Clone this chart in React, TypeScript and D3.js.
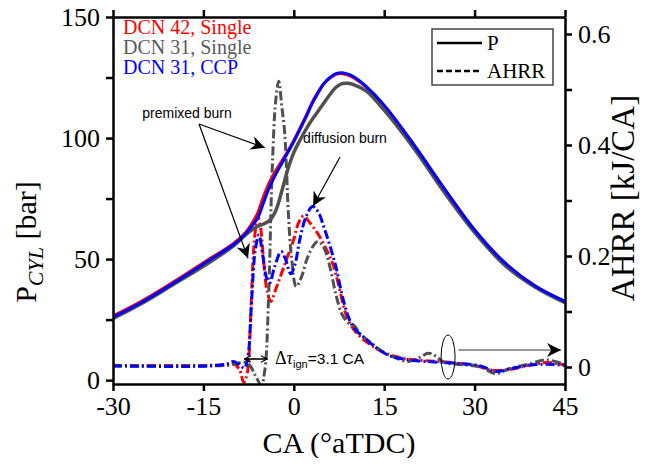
import React, { useRef, useEffect } from "react";
import * as d3 from "d3";

// crank angle grid for the pressure traces (°aTDC)
const caP = [-30, -25, -20, -15, -10, -8, -7, -6, -5, -4, -3, -2, -1, 0, 1, 2, 3, 4, 5, 6, 7, 8, 9, 10, 12, 15, 20, 25, 30, 35, 40, 45];
const pDcn42 = [26.5, 33, 40.5, 48.5, 56.5, 61, 64.5, 69, 76, 82, 86.5, 90.5, 94.5, 99, 104, 109, 114.5, 119, 122.5, 124.8, 126.3, 126.6, 126, 124.8, 121, 113.5, 97, 79, 62, 48.5, 39, 32.5];
const pDcn31 = [25.5, 32, 39.5, 47, 55.5, 60, 62, 63.5, 64.5, 66, 70, 78, 87, 94, 99, 103.5, 107.5, 111, 114.5, 118, 121, 122.5, 122.6, 122, 119.5, 111.5, 95.5, 77.5, 61, 47.5, 38.5, 32];
const pCcp = [26, 32.5, 40, 48, 56, 60.5, 63.5, 67, 73.5, 80, 85, 89.5, 94, 98.5, 103.5, 108.5, 114, 118.5, 122.5, 125, 126.6, 127, 126.4, 125.2, 121.3, 113.5, 97, 79, 62, 48.5, 39, 32.5];

// apparent heat release rate [kJ/CA] as [CA, value]
const ahrrDcn42: [number, number][] = [
  [-30, 0.003], [-14, 0.003], [-11, 0.004], [-10, 0.006], [-9, -0.005], [-8.3, -0.028], [-7.7, -0.01],
  [-7.2, 0.08], [-6.6, 0.22], [-6.0, 0.272], [-5.5, 0.25], [-5.0, 0.19], [-4.4, 0.135], [-3.8, 0.118],
  [-3, 0.14], [-2, 0.17], [-1, 0.2], [0, 0.23], [0.8, 0.26], [1.6, 0.272], [2.5, 0.262], [4, 0.24],
  [5.5, 0.21], [6.5, 0.185], [7.5, 0.145], [8.5, 0.1], [9.5, 0.075], [11, 0.055], [13, 0.038], [15, 0.026],
  [18, 0.016], [21, 0.012], [24, 0.01], [27, 0.007], [30, 0.003], [33, -0.006], [36, -0.004], [39, 0.003],
  [42, 0.008], [45, 0.004],
];
const ahrrDcn31: [number, number][] = [
  [-30, 0.002], [-14, 0.002], [-11, 0.003], [-9.5, 0.006], [-8.3, 0.009], [-7.3, 0.003], [-6.4, -0.015],
  [-5.4, -0.032], [-4.8, -0.005], [-4.2, 0.12], [-3.6, 0.35], [-3.0, 0.48], [-2.5, 0.515], [-2.0, 0.47],
  [-1.5, 0.42], [-0.9, 0.277], [-0.4, 0.2], [0.4, 0.145], [1.2, 0.16], [2.2, 0.195], [3.2, 0.218],
  [4.0, 0.226], [5, 0.215], [6, 0.18], [7, 0.13], [8, 0.095], [9, 0.08], [10, 0.075], [11, 0.06],
  [13, 0.042], [15, 0.026], [17, 0.016], [19, 0.01], [21, 0.018], [22.3, 0.025], [23.5, 0.02],
  [25, 0.008], [28, 0.004], [31, 0.0], [33.5, -0.012], [36, -0.002], [39, 0.005], [41.9, 0.013], [45, 0.004],
];
const ahrrCcp: [number, number][] = [
  [-30, 0.002], [-14, 0.002], [-11, 0.006], [-10, 0.01], [-9, 0.004], [-8.2, -0.002], [-7.6, 0.02],
  [-7, 0.12], [-6.4, 0.21], [-5.8, 0.238], [-5.2, 0.205], [-4.5, 0.16], [-4, 0.152], [-3.2, 0.18],
  [-2.1, 0.208], [-1.4, 0.195], [-0.5, 0.168], [0.2, 0.185], [1, 0.23], [2, 0.27], [3.1, 0.289],
  [4, 0.28], [5, 0.252], [6, 0.218], [7, 0.18], [8, 0.13], [9, 0.092], [10, 0.07], [12, 0.05],
  [14, 0.032], [16, 0.02], [19, 0.013], [22, 0.01], [25, 0.008], [28, 0.006], [31, 0.002],
  [33.5, -0.008], [36, -0.003], [39, 0.003], [42, 0.005], [45, 0.003],
];

const seriesNames = ["DCN 42, Single", "DCN 31, Single", "DCN 31, CCP"];
const seriesColors = ["#ff0000", "#505050", "#0000ff"];
const labelColors = ["#ff0000", "#5a5a5a", "#0000ff"];
const xTicks = [-30, -15, 0, 15, 30, 45];
const pTicks = [0, 25, 50, 75, 100, 125, 150];
const hTicks = [0, 0.1, 0.2, 0.3, 0.4, 0.5, 0.6];

const App = () => {
  const svgRef = useRef(null);

  useEffect(() => {
    const w = 652;
    const h = 466;
    const m = { l: 113, r: 565, t: 17, b: 384 };
    const serif = "'Liberation Serif', 'Times New Roman', serif";
    const sans = "'Liberation Sans', Arial, sans-serif";

    const svg = d3.select(svgRef.current).attr("width", w).attr("height", h);
    svg.selectAll("*").remove();

    const x = d3.scaleLinear().domain([-30, 45]).range([m.l, m.r]);
    const yP = d3.scaleLinear().domain([-1.6, 150]).range([m.b, m.t]);
    const yH = d3.scaleLinear().domain([-0.0306, 0.6306]).range([m.b, m.t]);

    const defs = svg.append("defs");
    defs.append("clipPath").attr("id", "plot")
      .append("rect").attr("x", m.l).attr("y", m.t).attr("width", m.r - m.l).attr("height", m.b - m.t);
    // filled arrowhead
    defs.append("marker").attr("id", "head").attr("viewBox", "0 0 10 10")
      .attr("refX", 10).attr("refY", 5).attr("markerWidth", 14).attr("markerHeight", 14)
      .attr("markerUnits", "userSpaceOnUse").attr("orient", "auto")
      .append("path").attr("d", "M0,0 L10,5 L0,10 L3,5 Z").attr("fill", "#000");
    // small open chevron
    defs.append("marker").attr("id", "chev").attr("viewBox", "0 0 10 10")
      .attr("refX", 9).attr("refY", 5).attr("markerWidth", 8).attr("markerHeight", 8)
      .attr("markerUnits", "userSpaceOnUse").attr("orient", "auto-start-reverse")
      .append("path").attr("d", "M1,1 L9,5 L1,9").attr("fill", "none").attr("stroke", "#000").attr("stroke-width", 1.6);

    const plot = svg.append("g").attr("clip-path", "url(#plot)");

    const pLine = d3.line<number>()
      .x((d, i) => x(caP[i]))
      .y((d) => yP(d))
      .curve(d3.curveCatmullRom);
    const hLine = d3.line<[number, number]>()
      .x((d) => x(d[0]))
      .y((d) => yH(d[1]))
      .curve(d3.curveCatmullRom);

    const dash = "9,3,2,3";
    [ahrrDcn42, ahrrDcn31, ahrrCcp].forEach((s, i) => {
      plot.append("path").attr("d", hLine(s)).attr("fill", "none")
        .attr("stroke", seriesColors[i]).attr("stroke-width", 3).attr("stroke-dasharray", dash);
    });
    [pDcn42, pDcn31, pCcp].forEach((s, i) => {
      plot.append("path").attr("d", pLine(s)).attr("fill", "none")
        .attr("stroke", seriesColors[i]).attr("stroke-width", i === 1 ? 3.5 : 3);
    });

    // axes
    const styleAxis = (g, size) => {
      g.select(".domain").attr("stroke", "#000").attr("stroke-width", 2.5);
      g.selectAll(".tick line").attr("stroke", "#000").attr("stroke-width", 2.5);
      g.selectAll(".tick text").attr("font-family", serif).attr("font-size", size).attr("fill", "#000");
    };
    const bottom = svg.append("g").attr("transform", `translate(0,${m.b})`)
      .call(d3.axisBottom(x).tickValues(xTicks).tickSize(7).tickSizeOuter(0).tickPadding(6)
        .tickFormat((d) => String(d)));
    styleAxis(bottom, 26);
    const top = svg.append("g").attr("transform", `translate(0,${m.t})`)
      .call(d3.axisTop(x).tickValues(xTicks).tickSize(7).tickSizeOuter(0).tickFormat(() => ""));
    styleAxis(top, 26);
    const left = svg.append("g").attr("transform", `translate(${m.l},0)`)
      .call(d3.axisLeft(yP).tickValues(pTicks).tickSize(7).tickSizeOuter(0).tickPadding(6)
        .tickFormat((d) => (+d % 50 === 0 ? String(d) : "")));
    styleAxis(left, 26);
    const right = svg.append("g").attr("transform", `translate(${m.r},0)`)
      .call(d3.axisRight(yH).tickValues(hTicks).tickSize(7).tickSizeOuter(0).tickPadding(6)
        .tickFormat((d) => (Math.round(+d * 10) % 2 === 0 ? String(+d) : "")));
    styleAxis(right, 26);

    // axis titles
    svg.append("text").attr("x", (m.l + m.r) / 2).attr("y", 453).attr("text-anchor", "middle")
      .attr("font-family", serif).attr("font-size", 30).text("CA (°aTDC)");
    const lt = svg.append("text").attr("transform", "translate(36,242) rotate(-90)")
      .attr("text-anchor", "middle").attr("font-family", serif).attr("font-size", 30);
    lt.append("tspan").text("P");
    lt.append("tspan").attr("font-style", "italic").attr("font-size", 22).attr("dy", 7).text("CYL");
    lt.append("tspan").attr("dy", -7).text(" [bar]");
    svg.append("text").attr("transform", "translate(634,198) rotate(-90)")
      .attr("text-anchor", "middle").attr("font-family", serif).attr("font-size", 33).text("AHRR [kJ/CA]");

    // series legend (coloured text)
    seriesNames.forEach((n, i) => {
      svg.append("text").attr("x", 123).attr("y", 34 + i * 20).attr("font-family", serif)
        .attr("font-size", 20).attr("fill", labelColors[i]).text(n);
    });

    // line-style legend
    const lg = svg.append("g");
    lg.append("rect").attr("x", 432).attr("y", 29).attr("width", 121).attr("height", 56)
      .attr("fill", "#fff").attr("stroke", "#444").attr("stroke-width", 1.5);
    lg.append("line").attr("x1", 437).attr("x2", 482).attr("y1", 43).attr("y2", 43)
      .attr("stroke", "#000").attr("stroke-width", 2.5);
    lg.append("line").attr("x1", 437).attr("x2", 482).attr("y1", 71).attr("y2", 71)
      .attr("stroke", "#000").attr("stroke-width", 2.5).attr("stroke-dasharray", "6,3");
    lg.append("text").attr("x", 487).attr("y", 50).attr("font-family", serif).attr("font-size", 21).text("P");
    lg.append("text").attr("x", 487).attr("y", 78).attr("font-family", serif).attr("font-size", 21).text("AHRR");

    // annotations
    const ann = svg.append("g").attr("font-family", sans).attr("font-size", 14).attr("fill", "#000");
    ann.append("text").attr("x", 187).attr("y", 118).attr("text-anchor", "middle").text("premixed burn");
    ann.append("text").attr("x", 345).attr("y", 143).attr("text-anchor", "middle").text("diffusion burn");
    const arrow = (x1, y1, x2, y2, color = "#000") =>
      svg.append("line").attr("x1", x1).attr("y1", y1).attr("x2", x2).attr("y2", y2)
        .attr("stroke", color).attr("stroke-width", 1.2).attr("marker-end", "url(#head)");
    arrow(199, 124, x(-4.8), yP(96));
    arrow(199, 124, x(-7.6), yH(0.196));
    arrow(340, 157, x(3.2), yH(0.29));

    // ignition delay marker
    svg.append("line").attr("x1", x(-8.2)).attr("x2", x(-4.4)).attr("y1", 359).attr("y2", 359)
      .attr("stroke", "#000").attr("stroke-width", 1.6)
      .attr("marker-start", "url(#chev)").attr("marker-end", "url(#chev)");
    const dt = svg.append("text").attr("x", 275).attr("y", 364).attr("font-family", sans).attr("font-size", 15.5);
    dt.append("tspan").attr("font-family", serif).attr("font-size", 18).text("Δ");
    dt.append("tspan").attr("font-family", serif).attr("font-style", "italic").attr("font-size", 18).text("τ");
    dt.append("tspan").attr("font-size", 11).attr("dy", 4).text("ign");
    dt.append("tspan").attr("dy", -4).text("=3.1 CA");

    // zoom ellipse with arrow to the right axis
    svg.append("ellipse").attr("cx", x(25.6)).attr("cy", 357).attr("rx", 7).attr("ry", 22)
      .attr("fill", "none").attr("stroke", "#000").attr("stroke-width", 1);
    arrow(x(27.3), 350, m.r - 4, 350, "#333");
  }, []);

  return <svg ref={svgRef} style={{ display: "block", margin: "-8px" }}></svg>;
};

export default App;
